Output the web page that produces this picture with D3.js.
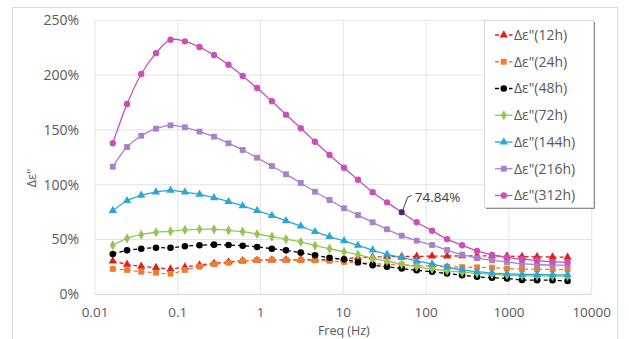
<!DOCTYPE html>
<html>
<head>
<meta charset="utf-8">
<script src="https://cdn.jsdelivr.net/npm/d3@7"></script>
<style>
  html, body { margin: 0; padding: 0; background: #ffffff; }
  svg { display: block; }
  text { font-family: "Open Sans", "Noto Sans", sans-serif; fill: #595959; }
</style>
</head>
<body>
<svg id="chart" width="629" height="339"></svg>
<script>
// ---------- data ----------
const freqHz = [0.0164, 0.0244, 0.0362, 0.0546, 0.0817, 0.122, 0.183, 0.274, 0.41, 0.608,
  0.907, 1.37, 2.03, 3.06, 4.55, 6.81, 10.2, 15, 22.6, 33.7, 50.7, 76.9, 118, 179, 272,
  412, 625, 948, 1439, 2186, 3365, 5106];

const seriesNames = ['Δε"(12h)', 'Δε"(24h)', 'Δε"(48h)', 'Δε"(72h)', 'Δε"(144h)', 'Δε"(216h)', 'Δε"(312h)'];

const eps12h = [30.4, 27.4, 25.5, 24.3, 23.1, 24.9, 26.7, 28.3, 29.5, 30.5, 31.0, 31.3, 31.5, 31.5, 31.6, 31.8,
  32.5, 33.4, 34.0, 34.3, 34.5, 34.6, 34.8, 34.9, 35.0, 35.0, 35.0, 34.8, 34.5, 34.2, 34.0, 33.8];
const eps24h = [23.1, 22.2, 20.6, 19.7, 18.8, 22.2, 25.2, 27.4, 28.8, 30.4, 31.3, 31.6, 31.3, 31.2, 31.0, 30.5,
  29.5, 28.8, 28.0, 27.4, 27.0, 26.2, 25.8, 25.2, 24.8, 24.6, 24.3, 23.6, 23.1, 22.9, 22.7, 22.6];
const eps48h = [36.8, 40.1, 41.6, 42.5, 42.5, 43.8, 44.7, 45.3, 45.0, 44.3, 43.2, 41.6, 40.1, 38.0, 35.6, 33.4,
  31.9, 29.2, 26.6, 25.2, 23.5, 22.0, 20.6, 19.0, 17.4, 16.0, 15.1, 14.4, 13.0, 12.9, 12.8, 12.1];
const eps72h = [44.7, 51.1, 54.4, 56.6, 57.5, 58.7, 59.3, 59.3, 58.4, 57.1, 55.0, 52.6, 50.3, 47.7, 44.5, 41.6,
  38.8, 36.3, 32.8, 30.4, 27.4, 25.2, 23.1, 21.5, 20.1, 19.2, 18.2, 17.6, 17.0, 16.8, 16.7, 16.6];
const eps144h = [76.3, 85.4, 90.3, 93.3, 94.9, 93.3, 91.2, 88.1, 84.5, 80.6, 76.3, 71.8, 67.0, 62.2, 57.1, 52.6,
  48.8, 44.6, 40.3, 36.5, 33.6, 30.5, 27.5, 24.8, 22.2, 20.6, 19.4, 18.7, 18.2, 18.0, 17.8, 17.7];
const eps216h = [116.4, 134.4, 144.7, 151.1, 154.2, 152.4, 148.4, 143.8, 137.8, 131.7, 124.6, 117.0, 109.5, 101.6, 93.6, 86.0,
  78.5, 72.3, 65.7, 59.3, 53.5, 48.9, 45.0, 40.4, 36.1, 33.0, 31.0, 29.5, 28.0, 27.2, 26.7, 26.4];
const eps312h = [137.8, 173.6, 201.0, 220.0, 232.3, 230.8, 225.6, 218.3, 209.5, 199.2, 188.2, 176.1, 163.9, 151.5, 139.2, 127.1,
  115.5, 104.5, 93.1, 83.9, 74.84, 65.7, 58.0, 50.3, 44.8, 39.6, 36.0, 33.6, 32.0, 30.8, 29.8, 29.2];

const xTickValues = [0.01, 0.1, 1, 10, 100, 1000, 10000];
const xTickLabels = ['0.01', '0.1', '1', '10', '100', '1000', '10000'];
const yTickValues = [0, 50, 100, 150, 200, 250];
const yTickLabels = ['0%', '50%', '100%', '150%', '200%', '250%'];

const labelIndex = 20;          // point annotated in 312h series
const labelText = '74.84%';

// ---------- styles ----------
const allSeries = [eps12h, eps24h, eps48h, eps72h, eps144h, eps216h, eps312h];
const colors = ['#E0201F', '#ED7D31', '#000000', '#92C755', '#2AA7D6', '#A880CC', '#CB4FB8'];
const shapes = [d3.symbolTriangle, d3.symbolSquare, d3.symbolCircle, d3.symbolDiamond, d3.symbolTriangle, d3.symbolSquare, d3.symbolCircle];
const sizes = [30, 34, 34, 30, 30, 34, 32];
const dashed = [true, true, true, false, false, false, false];

// ---------- layout ----------
const svg = d3.select('#chart');
const L = 95, R = 591.7, T = 20.3, B = 294.3;

const x = d3.scaleLog().domain([0.01, 10000]).range([L, R]);
const y = d3.scaleLinear().domain([0, 250]).range([B, T]);

// outer chart border
svg.append('rect').attr('x', 12.5).attr('y', 7.5).attr('width', 605).attr('height', 345)
  .attr('fill', '#fff').attr('stroke', '#D9D9D9').attr('stroke-width', 1);

// horizontal grid
svg.append('g').selectAll('line').data(yTickValues.filter(v => v > 0)).join('line')
  .attr('x1', L).attr('x2', R).attr('y1', d => y(d)).attr('y2', d => y(d))
  .attr('stroke', '#E3E3E3').attr('stroke-width', 1);
// vertical grid
svg.append('g').selectAll('line').data(xTickValues).join('line')
  .attr('x1', d => x(d)).attr('x2', d => x(d)).attr('y1', T).attr('y2', B)
  .attr('stroke', '#E3E3E3').attr('stroke-width', 1);

// x axis line
svg.append('line').attr('x1', L).attr('x2', R).attr('y1', B).attr('y2', B)
  .attr('stroke', '#D0D0D0').attr('stroke-width', 1);

// y tick labels
svg.append('g').selectAll('text').data(yTickValues).join('text')
  .attr('x', 79).attr('y', d => y(d)).attr('dy', '0.35em')
  .attr('text-anchor', 'end').attr('font-size', 14)
  .text((d, i) => yTickLabels[i]);

// x tick labels (y is the baseline)
svg.append('g').selectAll('text').data(xTickValues).join('text')
  .attr('x', d => x(d)).attr('y', 316.5)
  .attr('text-anchor', 'middle').attr('font-size', 13.5)
  .text((d, i) => xTickLabels[i]);

// axis titles
svg.append('text').attr('x', (L + R) / 2 + 0.5).attr('y', 334.5)
  .attr('text-anchor', 'middle').attr('font-size', 12.5).text('Freq (Hz)');
svg.append('text').attr('transform', 'translate(31,178) rotate(-90)')
  .attr('dy', '0.35em').attr('text-anchor', 'middle').attr('font-size', 13).text('Δε"');

// series
const line = d3.line().x(d => x(d[0])).y(d => y(d[1])).curve(d3.curveCatmullRom.alpha(0.5));
allSeries.forEach((vals, si) => {
  const pts = freqHz.map((f, i) => [f, vals[i]]);
  const g = svg.append('g');
  g.append('path').attr('d', line(pts)).attr('fill', 'none')
    .attr('stroke', colors[si]).attr('stroke-width', 1.3)
    .attr('stroke-dasharray', dashed[si] ? '4,3' : null);
  g.selectAll('path.m').data(pts).join('path').attr('class', 'm')
    .attr('transform', d => `translate(${x(d[0])},${y(d[1])})`)
    .attr('d', d3.symbol().type(shapes[si]).size(sizes[si]))
    .attr('fill', colors[si]);
});

// highlighted point + data label
const hx = x(freqHz[labelIndex]), hy = y(eps312h[labelIndex]);
svg.append('path').attr('d', `M${hx + 1},${hy - 2} L${hx + 6},${hy - 15} L${hx + 10},${hy - 17}`)
  .attr('fill', 'none').attr('stroke', '#404040').attr('stroke-width', 1);
svg.append('path').attr('transform', `translate(${hx},${hy})`)
  .attr('d', d3.symbol().type(d3.symbolSquare).size(26)).attr('fill', '#3A2F63');
svg.append('text').attr('x', hx + 13).attr('y', hy - 15).attr('dy', '0.35em')
  .attr('font-size', 13.5).style('fill', '#404040').text(labelText);

// legend
const lgX = 484.5, lgY = 20.5, lgW = 109, lgH = 187;
svg.append('rect').attr('x', lgX + 1.5).attr('y', lgY + 1.5).attr('width', lgW).attr('height', lgH)
  .attr('fill', '#8C8C8C');
svg.append('rect').attr('x', lgX).attr('y', lgY).attr('width', lgW).attr('height', lgH)
  .attr('fill', '#fff').attr('stroke', '#D9D9D9').attr('stroke-width', 1);
const lg = svg.append('g');
seriesNames.forEach((name, i) => {
  const cy = 35 + i * 26.75;
  lg.append('line').attr('x1', 495).attr('x2', 512.5).attr('y1', cy).attr('y2', cy)
    .attr('stroke', colors[i]).attr('stroke-width', 1.3)
    .attr('stroke-dasharray', dashed[i] ? '4,3' : null);
  lg.append('path').attr('transform', `translate(503.8,${cy})`)
    .attr('d', d3.symbol().type(shapes[i]).size(sizes[i])).attr('fill', colors[i]);
  lg.append('text').attr('x', 514).attr('y', cy).attr('dy', '0.35em')
    .attr('font-size', 14).text(name);
});
</script>
</body>
</html>
